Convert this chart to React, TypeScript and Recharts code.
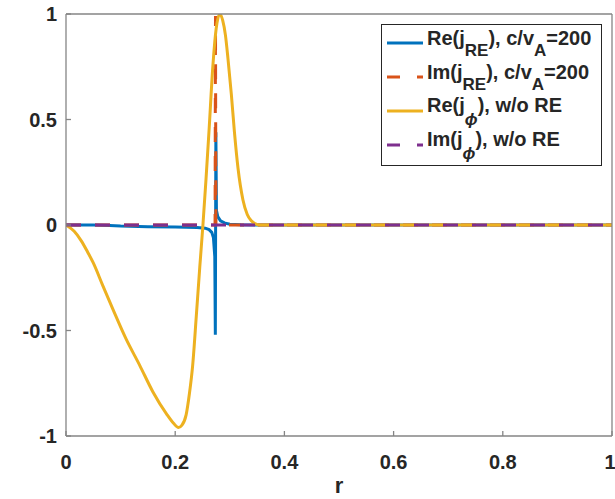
import { LineChart, Line, XAxis, YAxis, Legend, Label } from "recharts";

// axis ticks
const rTicks = [0, 0.2, 0.4, 0.6, 0.8, 1];
const yTicks = [-1, -0.5, 0, 0.5, 1];

// Re(j_RE), c/vA=200  -> [r, value]
const reJre: [number, number][] = [
  [0, 0], [0.05, 0], [0.08, -0.002], [0.1, -0.005], [0.15, -0.008],
  [0.2, -0.01], [0.24, -0.012], [0.255, -0.015], [0.262, -0.022],
  [0.267, -0.035], [0.27, -0.06], [0.2725, -0.15], [0.2735, -0.52],
  [0.2745, 0.44], [0.2755, 0.07], [0.278, 0.04], [0.283, 0.02],
  [0.29, 0.01], [0.3, 0.004], [0.32, 0.001], [0.35, 0], [1, 0],
];

// Im(j_RE), c/vA=200
const imJre: [number, number][] = [
  [0, 0], [0.273, 0], [0.2738, 0.99], [0.2745, 0], [1, 0],
];

// Re(j_phi), w/o RE
const reJphi: [number, number][] = [
  [0, 0], [0.015, -0.03], [0.028, -0.075], [0.04, -0.13], [0.05, -0.18],
  [0.067, -0.285], [0.086, -0.4], [0.11, -0.54], [0.135, -0.665],
  [0.159, -0.79], [0.184, -0.895], [0.197, -0.94], [0.206, -0.96],
  [0.212, -0.95], [0.22, -0.9], [0.226, -0.8], [0.232, -0.665],
  [0.2387, -0.43], [0.245, -0.2], [0.2508, 0], [0.2565, 0.22],
  [0.2618, 0.44], [0.269, 0.754], [0.275, 0.93], [0.2815, 1],
  [0.287, 0.97], [0.292, 0.9], [0.2966, 0.79], [0.3028, 0.62],
  [0.3085, 0.44], [0.315, 0.27], [0.324, 0.12], [0.332, 0.05],
  [0.3395, 0.02], [0.347, 0.005], [0.355, 0], [1, 0],
];

// Im(j_phi), w/o RE
const imJphi: [number, number][] = [
  [0, 0], [1, 0],
];

const toRows = (pts: [number, number][]) => pts.map(([r, v]) => ({ r, v }));

const FONT = "'Liberation Sans', Arial, sans-serif";
const AXIS = "#858585";
const TEXT = "#262626";

// last series sits on the mirrored (top/right) axes so that the box gets drawn
const series = [
  { key: "reJre", data: toRows(reJre), color: "#0072BD", dash: undefined as string | undefined, type: "linear", x: "b", y: "l" },
  { key: "imJre", data: toRows(imJre), color: "#D95319", dash: "15 14", type: "linear", x: "b", y: "l" },
  { key: "reJphi", data: toRows(reJphi), color: "#EDB120", dash: undefined, type: "monotone", x: "b", y: "l" },
  { key: "imJphi", data: toRows(imJphi), color: "#7E2F8E", dash: "15 14", type: "linear", x: "t", y: "rt" },
];

const sub = { fontSize: 17, verticalAlign: "-11px" };
const phi = { fontSize: 17, verticalAlign: "-13px", fontStyle: "italic" as const };

const legendLabels = [
  <>Re(j<span style={sub}>RE</span>), c/v<span style={sub}>A</span>=200</>,
  <>Im(j<span style={sub}>RE</span>), c/v<span style={sub}>A</span>=200</>,
  <>Re(j<span style={phi}>ϕ</span>), w/o RE</>,
  <>Im(j<span style={phi}>ϕ</span>), w/o RE</>,
];

const LegendBox = () => (
  <div
    style={{
      border: "1px solid #262626",
      background: "#fff",
      padding: "1px 0 3px 0",
      fontFamily: FONT,
      fontWeight: "bold",
      fontSize: 20,
      color: TEXT,
    }}
  >
    {series.map((s, i) => (
      <div key={s.key} style={{ height: 34, display: "flex", alignItems: "center" }}>
        <svg width={36} height={6} style={{ marginLeft: 5, flex: "none" }}>
          <line x1={0} y1={3} x2={36} y2={3} stroke={s.color} strokeWidth={3}
            strokeDasharray={s.dash ? "13 17" : undefined} />
        </svg>
        <span style={{ marginLeft: 4, lineHeight: 1, whiteSpace: "nowrap" }}>{legendLabels[i]}</span>
      </div>
    ))}
  </div>
);

const tickStyle = { fill: TEXT, fontSize: 20, fontWeight: "bold", fontFamily: FONT };

export default function App() {
  return (
    <div style={{ position: "absolute", left: 0, top: 0, width: 615, height: 499, background: "#fff" }}>
      <LineChart width={615} height={499} margin={{ top: 13, right: 2, bottom: 0, left: 0 }}>
        <XAxis
          xAxisId="b" dataKey="r" type="number" domain={[0, 1]} ticks={rTicks}
          allowDataOverflow height={63} stroke={AXIS} strokeWidth={1.3}
          tickSize={-5} tickMargin={24} tick={tickStyle} tickFormatter={(v) => String(v)}
        >
          <Label value="r" position="insideBottom" offset={6}
            style={{ fill: TEXT, fontSize: 22, fontWeight: "bold", fontFamily: FONT }} />
        </XAxis>
        <XAxis
          xAxisId="t" dataKey="r" type="number" orientation="top" domain={[0, 1]} ticks={rTicks}
          allowDataOverflow height={1} stroke={AXIS} strokeWidth={1.3} tickSize={-5} tick={false}
        />
        <YAxis
          yAxisId="l" type="number" domain={[-1, 1]} ticks={yTicks} allowDataOverflow
          width={66} stroke={AXIS} strokeWidth={1.3} tickSize={-5} tickMargin={14}
          tick={tickStyle} tickFormatter={(v) => String(v)}
        />
        <YAxis
          yAxisId="rt" type="number" orientation="right" domain={[-1, 1]} ticks={yTicks}
          allowDataOverflow width={1} stroke={AXIS} strokeWidth={1.3} tickSize={-5} tick={false}
        />
        {series.map((s) => (
          <Line
            key={s.key}
            xAxisId={s.x}
            yAxisId={s.y}
            data={s.data}
            dataKey="v"
            type={s.type as "linear" | "monotone"}
            stroke={s.color}
            strokeWidth={3}
            strokeDasharray={s.dash}
            dot={false}
            activeDot={false}
            isAnimationActive={false}
          />
        ))}
        <Legend
          layout="horizontal" verticalAlign="middle" align="center"
          wrapperStyle={{ left: 381, top: 24, width: 221 }}
          content={() => <LegendBox />}
        />
      </LineChart>
    </div>
  );
}
